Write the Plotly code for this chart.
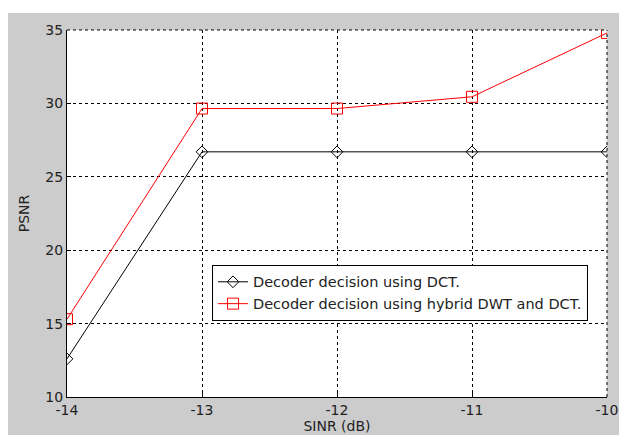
import plotly.graph_objects as go

sinr = [-14, -13, -12, -11, -10]
psnr_dct = [12.6, 26.7, 26.7, 26.7, 26.7]
psnr_hybrid = [15.3, 29.65, 29.65, 30.45, 34.8]
x_ticks = [-14, -13, -12, -11, -10]
y_ticks = [10, 15, 20, 25, 30, 35]

FONT = "DejaVu Sans"
TXT = "#222"

fig = go.Figure()
fig.add_trace(go.Scatter(
    x=sinr, y=psnr_dct, mode="lines+markers",
    name="Decoder decision using DCT.",
    line=dict(color="black", width=1),
    marker=dict(symbol="diamond-open", size=9, color="black", line=dict(width=1)),
))
fig.add_trace(go.Scatter(
    x=sinr, y=psnr_hybrid, mode="lines+markers",
    name="Decoder decision using hybrid DWT and DCT.",
    line=dict(color="red", width=1),
    marker=dict(symbol="square-open", size=11, color="red", line=dict(width=1)),
))

# white strips outside the gray figure area (top, left, right)
fig.add_shape(type="rect", xref="paper", yref="paper",
              x0=-0.2, x1=1.1, y0=1.0463, y1=1.2,
              fillcolor="white", line=dict(width=0), layer="below")
fig.add_shape(type="rect", xref="paper", yref="paper",
              x0=-0.2, x1=-0.1093, y0=-0.3, y1=1.2,
              fillcolor="white", line=dict(width=0), layer="below")
fig.add_shape(type="rect", xref="paper", yref="paper",
              x0=1.0222, x1=1.2, y0=-0.3, y1=1.2,
              fillcolor="white", line=dict(width=0), layer="below")
# top / right dashed grid lines at range edges
fig.add_shape(type="line", xref="paper", yref="paper", x0=0, x1=1, y0=1, y1=1,
              line=dict(color="black", width=1, dash="3px,3px"))
fig.add_shape(type="line", xref="paper", yref="paper", x0=1, x1=1, y0=0, y1=1,
              line=dict(color="black", width=1, dash="3px,3px"))

axis_common = dict(
    showgrid=True, gridcolor="black", gridwidth=1, griddash="3px,3px",
    showline=True, linecolor="black", linewidth=1, mirror=False,
    ticks="inside", ticklen=4, tickcolor="black",
    tickfont=dict(family=FONT, size=14, color=TXT),
    zeroline=False, automargin=False,
)

fig.update_layout(
    width=622, height=435,
    margin=dict(l=67, r=15, t=30, b=38),
    paper_bgcolor="#cccccc", plot_bgcolor="white",
    font=dict(family=FONT, size=14, color=TXT),
    xaxis=dict(range=[-14, -10], tickvals=x_ticks, ticktext=[str(v) for v in x_ticks],
               title=dict(text="SINR (dB)", font=dict(family=FONT, size=14), standoff=2),
               **axis_common),
    yaxis=dict(range=[10, 35], tickvals=y_ticks,
               title=dict(text="PSNR", font=dict(family=FONT, size=14), standoff=12),
               **axis_common),
    legend=dict(x=0.2685, y=0.36, xanchor="left", yanchor="top",
                bgcolor="white", bordercolor="black", borderwidth=1,
                font=dict(family=FONT, size=14.5, color=TXT),
                tracegroupgap=0, itemwidth=30),
    showlegend=True,
)

fig.write_html(
    "out.html",
    config={"displayModeBar": False},
    post_script="document.body.style.margin='0';document.body.style.overflow='hidden';",
)
